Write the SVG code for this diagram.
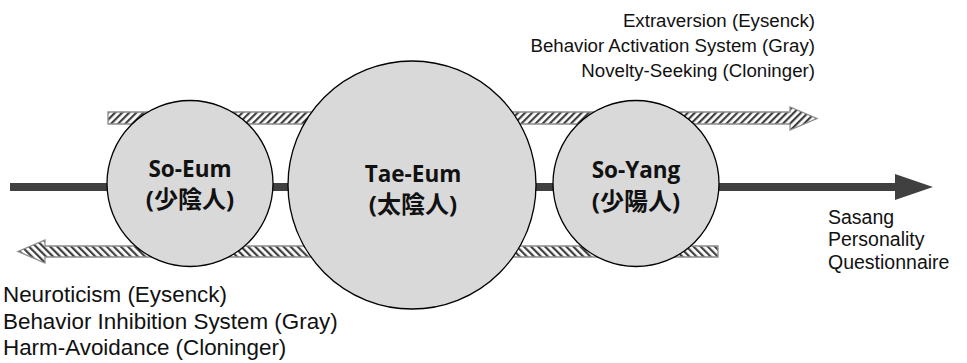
<svg xmlns="http://www.w3.org/2000/svg" width="967" height="363" viewBox="0 0 967 363">
<defs>
<pattern id="hatchR" patternUnits="userSpaceOnUse" width="5" height="5" patternTransform="rotate(45)">
<rect width="5" height="5" fill="#ffffff"/>
<rect width="2.2" height="5" fill="#404040"/>
</pattern>
<pattern id="hatchL" patternUnits="userSpaceOnUse" width="5" height="5" patternTransform="rotate(-45)">
<rect width="5" height="5" fill="#ffffff"/>
<rect width="2.2" height="5" fill="#404040"/>
</pattern>
<marker id="mainHead" markerUnits="userSpaceOnUse" markerWidth="40" markerHeight="26" refX="0" refY="13" orient="auto">
<path d="M0,0 L38,13 L0,26 Z" fill="#404040"/>
</marker>
<style>
.circ{fill:#d9d9d9;stroke:#000;stroke-width:1.3}
.lbl{font-family:"Open Sans","Noto Sans",sans-serif;font-weight:bold;font-size:22.5px;fill:#111;text-anchor:middle}
.cjk{font-family:"Open Sans","Noto Sans CJK KR","Noto Sans CJK TC",sans-serif;font-size:24px}
.note{font-family:"Liberation Sans",Arial,sans-serif;fill:#111}
.hatch{stroke:#8c8c8c;stroke-width:1.3}
</style>
</defs>
<g id="connectors">
<path id="top-arrow" class="hatch" fill="url(#hatchR)" d="M108,112 L790,112 L790,107 L817,118.5 L790,130 L790,124 L108,124 Z"/>
<path id="bottom-arrow" class="hatch" fill="url(#hatchL)" d="M718,246 L45,246 L45,240 L18,251.5 L45,263 L45,257 L718,257 Z"/>
<line id="main-axis" x1="10" y1="187" x2="895" y2="187" stroke="#404040" stroke-width="8" marker-end="url(#mainHead)"/>
</g>
<g id="so-eum">
<circle class="circ" cx="190" cy="183.5" r="83"/>
<text class="lbl" x="190" y="177">So-Eum<tspan class="cjk" x="190" y="208">(少陰人)</tspan></text>
</g>
<g id="tae-eum">
<circle class="circ" cx="412" cy="185" r="124"/>
<text class="lbl" x="413" y="182">Tae-Eum<tspan class="cjk" x="413" y="213">(太陰人)</tspan></text>
</g>
<g id="so-yang">
<circle class="circ" cx="636" cy="183.5" r="83"/>
<text class="lbl" x="636" y="178">So-Yang<tspan class="cjk" x="636" y="210">(少陽人)</tspan></text>
</g>
<g id="approach-labels">
<text class="note" font-size="18.7" text-anchor="end" x="815" y="27">Extraversion (Eysenck)<tspan x="815" y="52">Behavior Activation System (Gray)</tspan><tspan x="815" y="77">Novelty-Seeking (Cloninger)</tspan></text>
</g>
<g id="avoidance-labels">
<text class="note" font-size="22.4" x="3" y="302">Neuroticism (Eysenck)<tspan x="3" y="328.5">Behavior Inhibition System (Gray)</tspan><tspan x="3" y="355">Harm-Avoidance (Cloninger)</tspan></text>
</g>
<g id="axis-label">
<text class="note" font-size="19.5" x="828" y="223.5">Sasang<tspan x="828" y="246">Personality</tspan><tspan x="828" y="268.5">Questionnaire</tspan></text>
</g>
</svg>
